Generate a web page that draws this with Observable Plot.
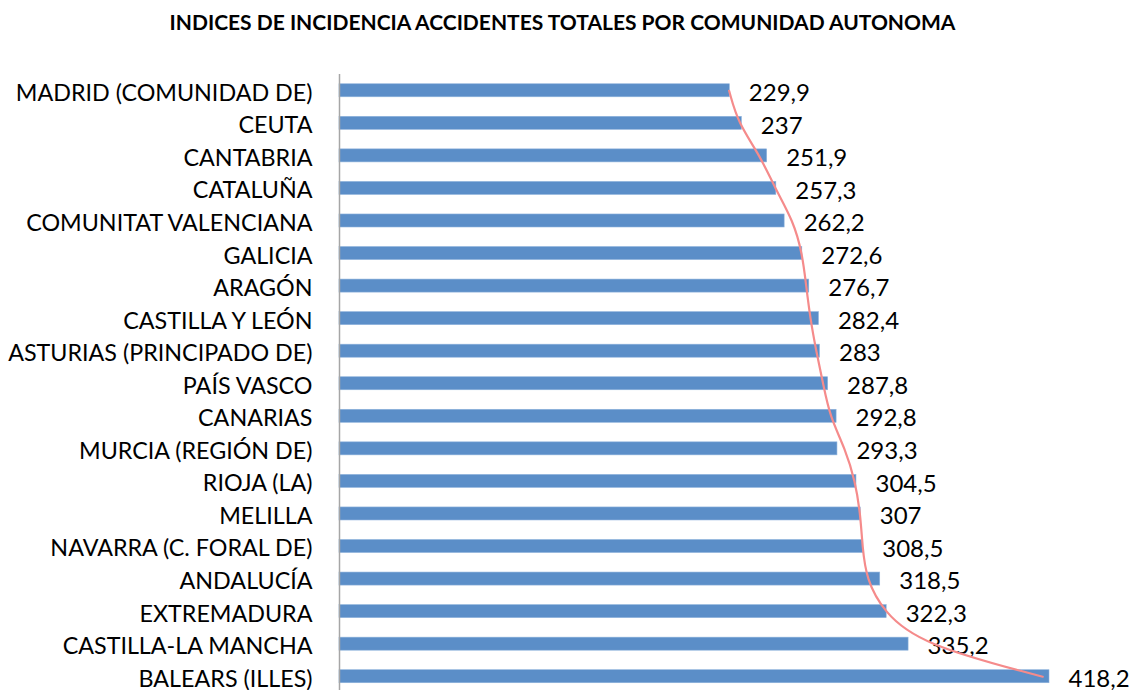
<!DOCTYPE html>
<html>
<head>
<meta charset="utf-8">
<script src="https://cdn.jsdelivr.net/npm/d3@7"></script>
<script src="https://cdn.jsdelivr.net/npm/@observablehq/plot@0.6"></script>
<style>
  html, body { margin: 0; padding: 0; background: #fff; overflow: hidden; }
  #title { height: 45px; line-height: 44px; text-align: center; font-family: Lato, sans-serif; font-weight: bold; font-size: 21px; color: #000; padding-right: 6px; }
  #chart svg { display: block; overflow: visible; }
</style>
</head>
<body>
<div id="title">INDICES DE INCIDENCIA ACCIDENTES TOTALES POR COMUNIDAD AUTONOMA</div>
<div id="chart"></div>
<script>
const regions = [
  "MADRID (COMUNIDAD DE)", "CEUTA", "CANTABRIA", "CATALUÑA", "COMUNITAT VALENCIANA",
  "GALICIA", "ARAGÓN", "CASTILLA Y LEÓN", "ASTURIAS (PRINCIPADO DE)", "PAÍS VASCO",
  "CANARIAS", "MURCIA (REGIÓN DE)", "RIOJA (LA)", "MELILLA", "NAVARRA (C. FORAL DE)",
  "ANDALUCÍA", "EXTREMADURA", "CASTILLA-LA MANCHA", "BALEARS (ILLES)"
];
const values = [229.9, 237, 251.9, 257.3, 262.2, 272.6, 276.7, 282.4, 283, 287.8,
  292.8, 293.3, 304.5, 307, 308.5, 318.5, 322.3, 335.2, 418.2];
// trend line, one reading per row
const trend = [229.5, 234.8, 247.8, 256.6, 267.3, 272.6, 274.9, 277.3, 280.8, 284.9,
  288.8, 297.9, 303.8, 306.8, 308.0, 310.3, 320.4, 342.2, 414.2];

const data = regions.map((r, i) => ({region: r, value: values[i], trend: trend[i]}));
const fmt = v => String(v).replace(".", ",");

const chart = Plot.plot({
  width: 1131,
  height: 645,
  marginLeft: 339,
  marginRight: 0,
  marginTop: 29,
  marginBottom: 0,
  style: {fontFamily: "Lato, sans-serif", fontSize: "23px", color: "#000", background: "#fff", overflow: "visible"},
  x: {domain: [0, 418.2], range: [339, 1049], axis: null},
  y: {domain: regions, range: [29, 647.5], paddingInner: 0.6, paddingOuter: 0.3, align: 0.5, round: false, axis: null},
  marks: [
    Plot.axisY({tickSize: 0, tickPadding: 27, label: null, fontSize: 23.3, fill: "#000", dy: 2.5}),
    Plot.barX(data, {x: "value", y: "region", fill: "#5b8ec8", stroke: "#8fb3dc", strokeWidth: 0.6}),
    Plot.ruleX([0], {stroke: "#a6a6a6", strokeWidth: 1.5}),
    Plot.text(data, {x: "value", y: "region", text: d => fmt(d.value), dx: 19, dy: 2.5, textAnchor: "start", fontSize: 24, fill: "#000"}),
    Plot.line(data, {x: "trend", y: "region", stroke: "#f58b8b", strokeWidth: 2.2, curve: "basis"})
  ]
});
document.getElementById("chart").appendChild(chart);
</script>
</body>
</html>
